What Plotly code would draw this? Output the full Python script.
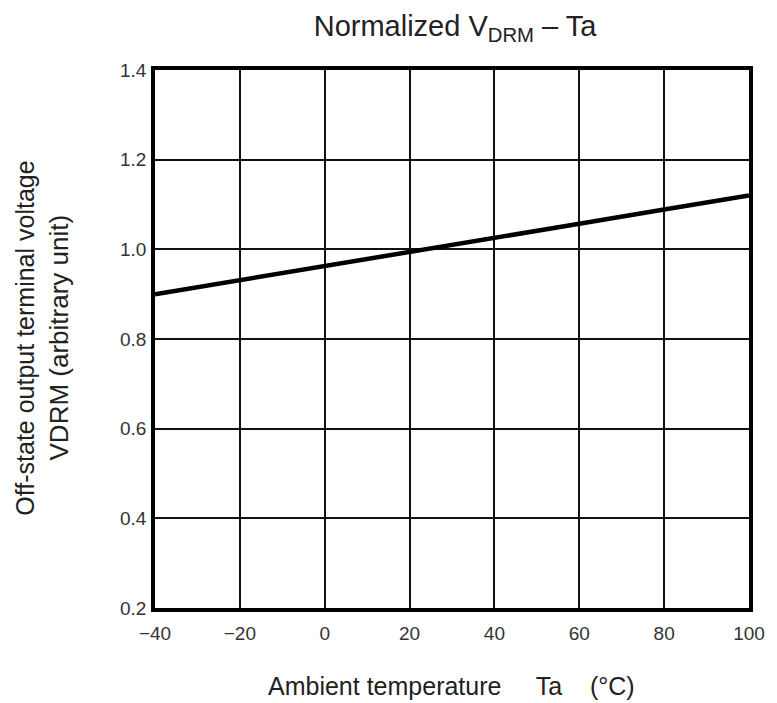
import plotly.graph_objects as go

# Data
ta = [-40, -20, 0, 20, 40, 60, 80, 100]
vdrm = [0.900, 0.931, 0.963, 0.994, 1.026, 1.057, 1.089, 1.120]

x_ticks = [-40, -20, 0, 20, 40, 60, 80, 100]
x_ticktext = ["\u221240", "\u221220", "0", "20", "40", "60", "80", "100"]
y_ticks = [0.2, 0.4, 0.6, 0.8, 1.0, 1.2, 1.4]
y_ticktext = ["0.2", "0.4", "0.6", "0.8", "1.0", "1.2", "1.4"]

FONT = "Liberation Sans, Arial, sans-serif"

# page body has an 8px margin; compensate so the plot area lands where the reference has it
OFF = 8
W, H = 777 - OFF, 703 - OFF
PL, PR, PT, PB = 155, 752, 70, 608          # target plot-area edges in page pixels
L, T = PL - OFF, PT - OFF
R, B = OFF + W - PR, OFF + H - PB
pw, ph = PR - PL, PB - PT

def px_x(p):
    return (p - PL) / pw

def px_y(q):
    return (PB - q) / ph

fig = go.Figure()
fig.add_trace(go.Scatter(x=ta, y=vdrm, mode="lines",
                         line=dict(color="black", width=4.5), showlegend=False))

fig.update_layout(
    width=W, height=H,
    margin=dict(l=L, r=R, t=T, b=B),
    paper_bgcolor="white", plot_bgcolor="white",
    font=dict(family=FONT, color="#222"),
    title=dict(text="Normalized V<sub>DRM</sub> \u2013 Ta",
               x=(455 - OFF) / W, xanchor="center",
               y=1 - (26 - OFF) / H, yanchor="middle", yref="container",
               font=dict(size=29, color="#222", family=FONT)),
)
fig.update_xaxes(range=[-40, 100], tickvals=x_ticks, ticktext=x_ticktext,
                 showgrid=True, gridcolor="#111", gridwidth=1.5,
                 showline=True, linecolor="black", linewidth=3.5, mirror=True,
                 ticks="", ticklabelstandoff=5, zeroline=False,
                 tickfont=dict(size=19, color="#333", family=FONT))
fig.update_yaxes(range=[0.2, 1.4], tickvals=y_ticks, ticktext=y_ticktext,
                 showgrid=True, gridcolor="#111", gridwidth=1.5,
                 showline=True, linecolor="black", linewidth=3.5, mirror=True,
                 ticks="", ticklabelstandoff=1, zeroline=False,
                 tickfont=dict(size=19, color="#333", family=FONT))

fig.add_annotation(text="Off-state output terminal voltage", textangle=-90,
                   xref="paper", yref="paper", x=px_x(24), y=px_y(338),
                   xanchor="center", yanchor="middle", showarrow=False,
                   font=dict(size=25, color="#222", family=FONT))
fig.add_annotation(text="VDRM (arbitrary unit)", textangle=-90,
                   xref="paper", yref="paper", x=px_x(59), y=px_y(337),
                   xanchor="center", yanchor="middle", showarrow=False,
                   font=dict(size=26, color="#222", family=FONT))
fig.add_annotation(text="Ambient temperature     Ta    (\u00b0C)",
                   xref="paper", yref="paper", x=px_x(453), y=px_y(686),
                   xanchor="center", yanchor="middle", showarrow=False,
                   font=dict(size=25, color="#222", family=FONT))

fig.write_html("out.html")
